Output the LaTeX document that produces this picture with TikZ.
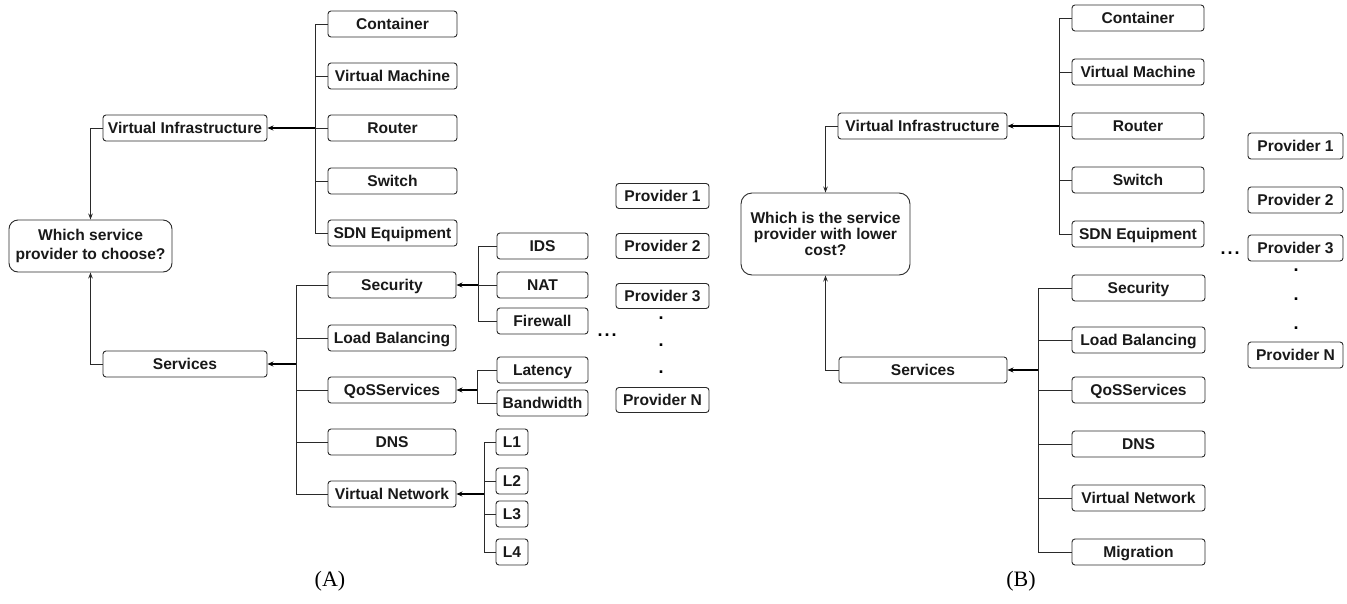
\documentclass[tikz,border=0pt]{standalone}
\usepackage{fontspec}
\setmainfont{Liberation Sans}
\newfontfamily\capfont{Liberation Serif}
\usetikzlibrary{arrows.meta}
\definecolor{ln}{HTML}{2A2A2A}
\begin{document}
\begin{tikzpicture}[x=1pt,y=-1pt,
  base/.style={draw=ln, rounded corners=3pt, line width=0.9pt, inner sep=0pt,
    text=black!90, align=center},
  box/.style={base, minimum height=26pt, text height=11.2pt, text depth=0pt,
    font=\bfseries\fontsize{15.6}{18}\selectfont},
  qbox/.style={base, rounded corners=9pt},
  conn/.style={draw=ln, line width=0.9pt},
  arr/.style={draw=black, line width=1.6pt, -{Stealth[length=6pt,width=5pt]}},
  tarr/.style={draw=ln, line width=0.9pt, -{Stealth[length=6pt,width=4.5pt]}},
  dot/.style={inner sep=0pt, font=\bfseries\fontsize{18}{20}\selectfont},
  lab/.style={inner sep=0pt, font=\capfont\fontsize{22}{24}\selectfont}]
\path[use as bounding box] (0,0) rectangle (1347,603);

% ================= Panel A =================
\node[box, minimum width=129pt] (a_cont) at (392.5,24) {Container};
\node[box, minimum width=129pt] (a_vm)   at (392.5,76) {Virtual Machine};
\node[box, minimum width=129pt] (a_rout) at (392.5,128) {Router};
\node[box, minimum width=129pt] (a_sw)   at (392.5,181) {Switch};
\node[box, minimum width=129pt] (a_sdn)  at (392.5,233) {SDN Equipment};

\node[box, minimum width=164pt] (a_vi) at (185,128) {Virtual Infrastructure};
\node[qbox, minimum width=163pt, minimum height=52pt,
      font=\bfseries\fontsize{15.6}{19.5}\selectfont] (a_q) at (90.5,246) {Which service\\provider to choose?};
\node[box, minimum width=164pt] (a_serv) at (185,364) {Services};

\node[box, minimum width=128pt] (a_sec) at (392,285) {Security};
\node[box, minimum width=128pt] (a_lb)  at (392,338) {Load Balancing};
\node[box, minimum width=128pt] (a_qos) at (392,390) {QoSServices};
\node[box, minimum width=128pt] (a_dns) at (392,442) {DNS};
\node[box, minimum width=128pt] (a_vn)  at (392,494) {Virtual Network};

\node[box, minimum width=91pt] (a_ids) at (542.5,246) {IDS};
\node[box, minimum width=91pt] (a_nat) at (542.5,285) {NAT};
\node[box, minimum width=91pt] (a_fw)  at (542.5,321) {Firewall};

\node[box, minimum width=91pt] (a_lat) at (542.5,370) {Latency};
\node[box, minimum width=91pt] (a_bw)  at (542.5,403) {Bandwidth};

\node[box, minimum width=32pt] (a_l1) at (512,442) {L1};
\node[box, minimum width=32pt] (a_l2) at (512,481) {L2};
\node[box, minimum width=32pt] (a_l3) at (512,514) {L3};
\node[box, minimum width=32pt] (a_l4) at (512,552) {L4};

\node[box, minimum width=93pt, minimum height=25pt] (a_p1) at (662.5,196) {Provider 1};
\node[box, minimum width=93pt, minimum height=25pt] (a_p2) at (662.5,246) {Provider 2};
\node[box, minimum width=93pt, minimum height=25pt] (a_p3) at (662.5,296) {Provider 3};
\node[box, minimum width=93pt, minimum height=25pt] (a_pn) at (662.5,400) {Provider N};
\node[dot] (a_d1) at (661,318) {.};
\node[dot] (a_d2) at (661,345) {.};
\node[dot] (a_d3) at (661,372) {.};
\node[dot] (a_ell) at (607,335) {.\kern2pt.\kern2pt.};

% trunks A
\coordinate (a_t1) at (315,128);
\foreach \n in {a_cont,a_vm,a_rout,a_sw,a_sdn} \draw[conn] (\n.west) -| (a_t1);
\draw[arr] (a_t1) -- (a_vi.east);

\coordinate (a_t2) at (296,364);
\foreach \n in {a_sec,a_lb,a_qos,a_dns,a_vn} \draw[conn] (\n.west) -| (a_t2);
\draw[arr, line width=1.2pt] (a_t2) -- (a_serv.east);

\coordinate (a_t3) at (478,285);
\foreach \n in {a_ids,a_nat,a_fw} \draw[conn] (\n.west) -| (a_t3);
\draw[arr, line width=1.2pt] (a_t3) -- (a_sec.east);

\coordinate (a_t4) at (477,390);
\foreach \n in {a_lat,a_bw} \draw[conn] (\n.west) -| (a_t4);
\draw[arr, line width=1.2pt] (a_t4) -- (a_qos.east);

\coordinate (a_t5) at (484,494);
\foreach \n in {a_l1,a_l2,a_l3,a_l4} \draw[conn] (\n.west) -| (a_t5);
\draw[arr] (a_t5) -- (a_vn.east);

\draw[tarr] (a_vi.west) -| (a_q.north);
\draw[tarr] (a_serv.west) -| (a_q.south);

% ================= Panel B =================
\node[box, minimum width=132pt] (b_cont) at (1138,18) {Container};
\node[box, minimum width=132pt] (b_vm)   at (1138,72) {Virtual Machine};
\node[box, minimum width=132pt] (b_rout) at (1138,126) {Router};
\node[box, minimum width=132pt] (b_sw)   at (1138,180) {Switch};
\node[box, minimum width=132pt] (b_sdn)  at (1138,234) {SDN Equipment};

\node[box, minimum width=169pt] (b_vi) at (922.5,126) {Virtual Infrastructure};
\node[qbox, minimum width=169pt, minimum height=82pt, rounded corners=11pt,
      font=\bfseries\fontsize{15.6}{16.2}\selectfont] (b_q) at (825.5,234) {Which is the service\\provider with lower\\cost?};
\node[box, minimum width=168pt] (b_serv) at (923,370) {Services};

\node[box, minimum width=133pt] (b_sec) at (1138.5,288) {Security};
\node[box, minimum width=133pt] (b_lb)  at (1138.5,340) {Load Balancing};
\node[box, minimum width=133pt] (b_qos) at (1138.5,390) {QoSServices};
\node[box, minimum width=133pt] (b_dns) at (1138.5,444) {DNS};
\node[box, minimum width=133pt] (b_vn)  at (1138.5,498) {Virtual Network};
\node[box, minimum width=133pt] (b_mig) at (1138.5,552) {Migration};

\node[box, minimum width=95pt] (b_p1) at (1295.5,146) {Provider 1};
\node[box, minimum width=95pt] (b_p2) at (1295.5,200) {Provider 2};
\node[box, minimum width=95pt] (b_p3) at (1295.5,248) {Provider 3};
\node[box, minimum width=95pt] (b_pn) at (1295.5,355) {Provider N};
\node[dot] (b_d1) at (1296,270) {.};
\node[dot] (b_d2) at (1296,299) {.};
\node[dot] (b_d3) at (1296,328) {.};
\node[dot] (b_ell) at (1230,253) {.\kern2pt.\kern2pt.};

\coordinate (b_t1) at (1059,126);
\foreach \n in {b_cont,b_vm,b_rout,b_sw,b_sdn} \draw[conn] (\n.west) -| (b_t1);
\draw[arr] (b_t1) -- (b_vi.east);

\coordinate (b_t2) at (1038,370);
\foreach \n in {b_sec,b_lb,b_qos,b_dns,b_vn,b_mig} \draw[conn] (\n.west) -| (b_t2);
\draw[arr, line width=1.2pt] (b_t2) -- (b_serv.east);

\draw[tarr] (b_vi.west) -| (b_q.north);
\draw[tarr] (b_serv.west) -| (b_q.south);

% captions
\node[lab] (capA) at (330,581) {(A)};
\node[lab] (capB) at (1021,581) {(B)};
\end{tikzpicture}
\end{document}
